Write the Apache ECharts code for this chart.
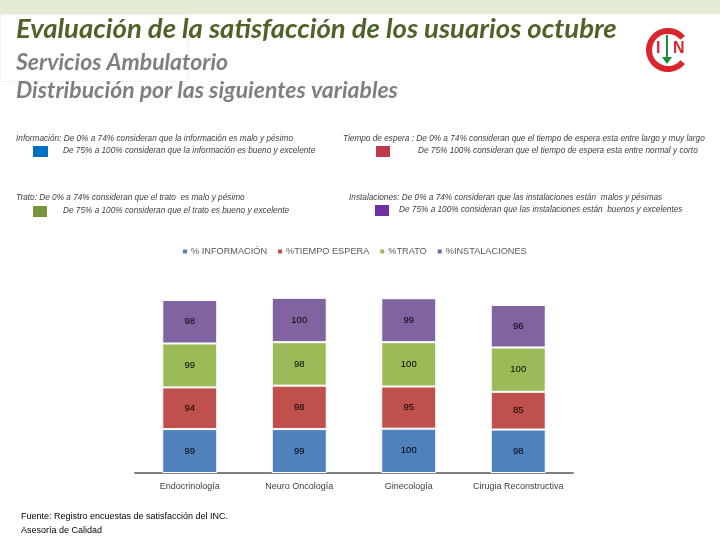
<!DOCTYPE html>
<html><head><meta charset="utf-8">
<script src="https://cdn.jsdelivr.net/npm/echarts@6/dist/echarts.min.js"></script>
<style>html,body{margin:0;padding:0;background:#fff}#c{width:720px;height:540px}</style>
</head><body><div id="c"></div>
<script>
const categories = ['Endocrinología', 'Neuro Oncología', 'Ginecología', 'Cirugia Reconstructiva'];
const seriesNames = ['% INFORMACIÓN', '%TIEMPO ESPERA', '%TRATO', '%INSTALACIONES'];
const informacion = [99, 99, 100, 98];
const tiempoEspera = [94, 98, 95, 85];
const trato = [99, 98, 100, 100];
const instalaciones = [98, 100, 99, 96];
const seriesColors = ['#4f81bd', '#c0504d', '#9bbb59', '#8064a2'];

const titleText = 'Evaluación de la satisfacción de los usuarios octubre';
const subtitle1 = 'Servicios Ambulatorio';
const subtitle2 = 'Distribución por las siguientes variables';
const notes = [
  {l1: 'Información: De 0% a 74% consideran que la información es malo y pésimo', l2: 'De 75% a 100% consideran que la información es bueno y excelente', color: '#0070c0'},
  {l1: 'Tiempo de espera : De 0% a 74% consideran que el tiempo de espera esta entre largo y muy largo', l2: 'De 75% 100% consideran que el tiempo de espera esta entre normal y corto', color: '#c0394d'},
  {l1: 'Trato: De 0% a 74% consideran que el trato  es malo y pésimo', l2: 'De 75% a 100% consideran que el trato es bueno y excelente', color: '#77933c'},
  {l1: 'Instalaciones: De 0% a 74% consideran que las instalaciones están  malos y pésimas', l2: 'De 75% a 100% consideran que las instalaciones están  buenos y excelentes', color: '#7030a0'}
];
const footer1 = 'Fuente: Registro encuestas de satisfacción del INC.';
const footer2 = 'Asesoría de Calidad';

const dataSets = [informacion, tiempoEspera, trato, instalaciones];
const chart = echarts.init(document.getElementById('c'));

const noteFont = 'italic 8.25px "Liberation Sans"';
const notePos = [
  {x1: 16, y1: 140, x2: 63, y2: 152, sx: 33, sy: 146, sw: 15, sh: 11},
  {x1: 343, y1: 140, x2: 418, y2: 152, sx: 376, sy: 146, sw: 14, sh: 11},
  {x1: 16, y1: 199, x2: 63, y2: 212, sx: 33, sy: 206, sw: 14, sh: 11},
  {x1: 349, y1: 199, x2: 399, y2: 211, sx: 375, sy: 205, sw: 14, sh: 11}
];
const graphics = [
  {type: 'rect', shape: {x: 0, y: 0, width: 720, height: 14}, style: {fill: '#e4ecd6'}, z: 0},
  {type: 'rect', shape: {x: 0.5, y: 14.5, width: 188, height: 67}, style: {fill: 'none', stroke: '#e6e6e6', lineWidth: 1, lineDash: [2, 2]}},
  {type: 'text', left: 16, top: 16, style: {text: titleText, font: 'italic bold 27.5px Lato', fill: '#4f6228'}},
  {type: 'text', left: 16, top: 51, style: {text: subtitle1, font: 'italic bold 23px Lato', fill: '#7f7f7f'}},
  {type: 'text', left: 16, top: 79, style: {text: subtitle2, font: 'italic bold 23px Lato', fill: '#7f7f7f'}},
  {type: 'text', left: 21, top: 512, style: {text: footer1, font: '9px "Liberation Sans"', fill: '#000'}},
  {type: 'text', left: 21, top: 526, style: {text: footer2, font: '9px "Liberation Sans"', fill: '#000'}},
  // logo
  {type: 'arc', shape: {cx: 668, cy: 50, r: 19, startAngle: Math.PI * 0.22, endAngle: Math.PI * 1.78, clockwise: true}, style: {stroke: '#d9262c', lineWidth: 6, fill: 'none'}},
  {type: 'text', left: 656, top: 41, style: {text: 'I', font: 'bold 16px "Liberation Sans"', fill: '#d9262c'}},
  {type: 'text', left: 673, top: 41, style: {text: 'N', font: 'bold 16px "Liberation Sans"', fill: '#d9262c'}},
  {type: 'line', shape: {x1: 667, y1: 35, x2: 667, y2: 60}, style: {stroke: '#1f8a3c', lineWidth: 2}},
  {type: 'polygon', shape: {points: [[662, 57], [672, 57], [667, 64]]}, style: {fill: '#1f8a3c'}}
];
notes.forEach((n, i) => {
  const p = notePos[i];
  graphics.push({type: 'text', left: p.x1, top: p.y1 - 5, style: {text: n.l1, font: noteFont, fill: '#404040'}});
  graphics.push({type: 'text', left: p.x2, top: p.y2 - 5, style: {text: n.l2, font: noteFont, fill: '#404040'}});
  graphics.push({type: 'rect', shape: {x: p.sx, y: p.sy, width: p.sw, height: p.sh}, style: {fill: n.color}});
});

chart.setOption({
  animation: false,
  legend: {
    data: seriesNames, left: 181, top: 247, padding: 0, itemWidth: 6, itemHeight: 6, itemGap: 9,
    icon: 'rect', textStyle: {fontSize: 9.2, color: '#595959', fontFamily: 'Liberation Sans', padding: [0, 0, 0, -2]}
  },
  grid: {left: 135, width: 438, bottom: 67, top: 295.6},
  xAxis: {
    type: 'category', data: categories,
    axisLine: {lineStyle: {color: '#808080', width: 2}},
    axisTick: {show: false},
    axisLabel: {interval: 0, fontSize: 9, color: '#404040', margin: 9, fontFamily: 'Liberation Sans'}
  },
  yAxis: {type: 'value', min: 0, max: 400, show: false, splitLine: {show: false}},
  series: seriesNames.map((name, i) => ({
    name, type: 'bar', stack: 'total', barWidth: 55, data: dataSets[i],
    itemStyle: {color: seriesColors[i], borderColor: '#fff', borderWidth: 1},
    label: {show: true, position: 'inside', color: '#000', fontSize: 9.5, fontFamily: 'Liberation Sans'}
  })),
  graphic: graphics
});
</script></body></html>
